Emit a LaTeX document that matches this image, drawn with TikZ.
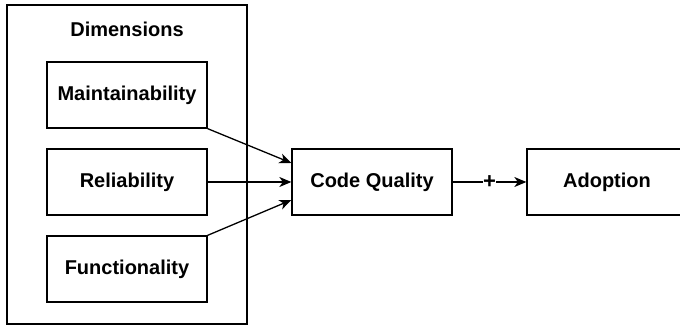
\documentclass[tikz,border=0pt]{standalone}
\usepackage{fontspec}
\setmainfont{Liberation Sans}
\usetikzlibrary{arrows.meta}
\tikzset{
  box/.style={draw, line width=1.3pt, minimum width=160pt, minimum height=66pt, inner sep=0pt, font=\fontsize{20}{24}\selectfont\bfseries},
  conn/.style={line width=1.3pt, -{Stealth[length=12pt,width=10pt,inset=3.5pt]}},
  lbl/.style={fill=white, inner sep=0.5pt, font=\fontsize{22}{24}\selectfont\bfseries}
}
\begin{document}
\begin{tikzpicture}[x=1pt,y=-1pt]
\useasboundingbox (0,0) rectangle (680,328);
\node[draw, line width=1.3pt, minimum width=240pt, minimum height=319pt, inner sep=0pt] (dim) at (127,164.5) {};
\node[font=\fontsize{20}{24}\selectfont\bfseries, anchor=base] (dimlbl) at (127,37) {Dimensions};
\node[box] (m) at (127,95) {Maintainability};
\node[box] (r) at (127,182) {Reliability};
\node[box] (f) at (127,269) {Functionality};
\node[box] (cq) at (372,182) {Code Quality};
\node[box] (ad) at (607,182) {Adoption};
\draw[conn] (m.south east) -- ([yshift=19pt]cq.west);
\draw[conn] (r.east) -- (cq.west);
\draw[conn] (f.north east) -- ([yshift=-18pt]cq.west);
\draw[conn] (cq.east) -- node[lbl] (plus) {+} (ad.west);
\end{tikzpicture}
\end{document}
